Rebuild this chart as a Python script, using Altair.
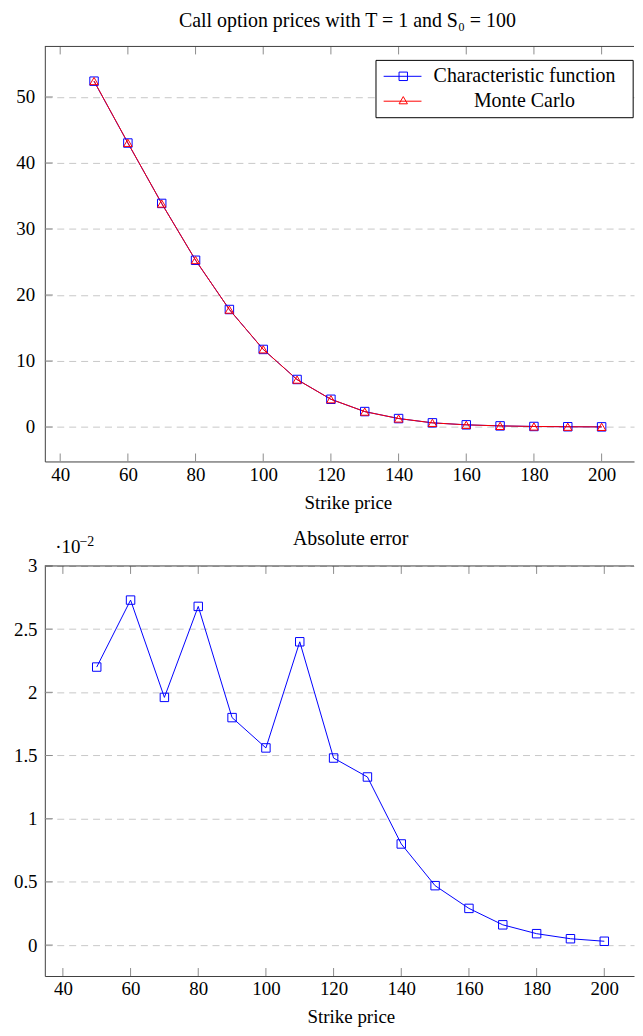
import altair as alt
import pandas as pd

# ---------------- data ----------------
strike = [50, 60, 70, 80, 90, 100, 110, 120, 130, 140, 150, 160, 170, 180, 190, 200]
cf_price = [52.39, 43.02, 33.87, 25.26, 17.80, 11.75, 7.20, 4.20, 2.34, 1.28, 0.63,
            0.33, 0.17, 0.08, 0.04, 0.02]
mc_price = [52.41, 43.05, 33.85, 25.29, 17.78, 11.77, 7.18, 4.21, 2.33, 1.29, 0.63,
            0.33, 0.17, 0.08, 0.04, 0.02]
abs_error = [0.0220, 0.0273, 0.0196, 0.0268, 0.0180, 0.0156, 0.0240, 0.0148, 0.0133,
             0.0080, 0.0047, 0.0029, 0.0016, 0.0009, 0.0005, 0.0003]

x_ticks = [40, 60, 80, 100, 120, 140, 160, 180, 200]
price_ticks = [0, 10, 20, 30, 40, 50]
error_ticks = [0, 0.5, 1, 1.5, 2, 2.5, 3]  # in units of 10^-2
legend_labels = ["Characteristic function", "Monte Carlo"]
title_top = "Call option prices with T = 1 and S\u2080 = 100"
title_bottom = "Absolute error"
x_title = "Strike price"
exp_base = "\u00b710"
exp_power = "\u22122"

# ---------------- style / layout ----------------
FONT = "Liberation Serif"
BLUE = "#0000ff"
RED = "#ff0000"
GRID = "#c8c8c8"
FRAME = "#404040"
TICK = "#8c8c8c"
PXU = 3.4
W = 592
H1, H2 = 417, 412
TL = 8
X0_TOP = 35.456
X0_BOT = 34.662

one = pd.DataFrame({"d": [0]})


def xaxis(tx):
    return alt.Axis(values=x_ticks, title=x_title, grid=False, ticks=False, domain=True,
                    domainColor=FRAME, domainWidth=1, labelPadding=4, titlePadding=9,
                    titleX=tx, labelFont=FONT, labelFontSize=19, titleFont=FONT,
                    titleFontSize=19, titleFontWeight="normal", labelColor="black",
                    titleColor="black", labelFlush=False)


def yaxis(vals, pad, fmt):
    return alt.Axis(values=vals, title=None, grid=True, gridColor=GRID, gridDash=[7, 5],
                    gridWidth=1, ticks=False, domain=True, domainColor=FRAME, domainWidth=1,
                    labelPadding=pad, labelFont=FONT, labelFontSize=19, labelColor="black",
                    labelFlush=False, format=fmt)


def label(text, x, y, size=20, align="center"):
    return alt.Chart(pd.DataFrame({"s": [text]})).mark_text(
        font=FONT, fontSize=size, align=align, baseline="middle", color="black").encode(
        text="s:N", x=alt.value(x), y=alt.value(y))


# ---------------- top chart ----------------
prices = pd.DataFrame({"K": strike, "cf": cf_price, "mc": mc_price})
xs1 = alt.Scale(domain=[X0_TOP, X0_TOP + W / PXU], nice=False, zero=False)
ys1 = alt.Scale(domain=[-5.22, 57.65], nice=False, zero=False)
ya1 = yaxis(price_ticks, 10.2, "d")
xa1 = xaxis(304.5)

base1 = alt.Chart(prices)
cf_line = base1.mark_line(color=BLUE, strokeWidth=1).encode(
    x=alt.X("K:Q", scale=xs1, axis=xa1), y=alt.Y("cf:Q", scale=ys1, axis=ya1))
mc_line = base1.mark_line(color=RED, strokeWidth=1).encode(
    x=alt.X("K:Q", scale=xs1, axis=xa1), y=alt.Y("mc:Q", scale=ys1, axis=ya1))
cf_pts = base1.mark_point(shape="square", color=BLUE, size=72, strokeWidth=1, filled=False,
                          opacity=1).encode(
    x=alt.X("K:Q", scale=xs1, axis=xa1), y=alt.Y("cf:Q", scale=ys1, axis=ya1))
mc_pts = base1.mark_point(shape="triangle-up", color=RED, size=70, strokeWidth=1,
                          filled=False, opacity=1).encode(
    x=alt.X("K:Q", scale=xs1, axis=xa1), y=alt.Y("mc:Q", scale=ys1, axis=ya1))

xt = pd.DataFrame({"t": x_ticks})
xt_b1 = alt.Chart(xt).mark_rule(color=TICK, strokeWidth=1).encode(
    x=alt.X("t:Q", scale=xs1, axis=xa1), y=alt.value(H1), y2=alt.value(H1 - TL))
xt_t1 = alt.Chart(xt).mark_rule(color=TICK, strokeWidth=1).encode(
    x=alt.X("t:Q", scale=xs1, axis=xa1), y=alt.value(0), y2=alt.value(TL))
yt1 = alt.Chart(pd.DataFrame({"t": price_ticks})).mark_rule(color=TICK, strokeWidth=1).encode(
    y=alt.Y("t:Q", scale=ys1, axis=ya1), x=alt.value(0), x2=alt.value(TL))
frame1 = alt.Chart(one).mark_rule(color=FRAME, strokeWidth=1).encode(
    x=alt.value(0), x2=alt.value(W), y=alt.value(0))

# legend
leg_box = alt.Chart(one).mark_rect(fill="white", stroke="black", strokeWidth=1).encode(
    x=alt.value(332.75), x2=alt.value(591.15), y=alt.value(14), y2=alt.value(71.6))
leg_l1 = alt.Chart(one).mark_rule(color=BLUE, strokeWidth=1).encode(
    x=alt.value(340.45), x2=alt.value(378.45), y=alt.value(30))
leg_p1 = alt.Chart(one).mark_point(shape="square", color=BLUE, size=72, strokeWidth=1,
                                   filled=False, opacity=1).encode(
    x=alt.value(360.15), y=alt.value(30))
leg_l2 = alt.Chart(one).mark_rule(color=RED, strokeWidth=1).encode(
    x=alt.value(340.45), x2=alt.value(378.45), y=alt.value(55))
leg_p2 = alt.Chart(one).mark_point(shape="triangle-up", color=RED, size=70, strokeWidth=1,
                                   filled=False, opacity=1).encode(
    x=alt.value(360.15), y=alt.value(54))
leg_t1 = label(legend_labels[0], 481.95, 29.5)
leg_t2 = label(legend_labels[1], 481.95, 54.5)
ttl1 = label(title_top, 304, -25.7)

top = alt.layer(
    xt_b1, xt_t1, yt1, frame1, cf_line, mc_line, cf_pts, mc_pts,
    leg_box, leg_l1, leg_l2, leg_p1, leg_p2, leg_t1, leg_t2, ttl1
).properties(width=W, height=H1)

# ---------------- bottom chart ----------------
errs = pd.DataFrame({"K": strike, "err": abs_error})
xs2 = alt.Scale(domain=[X0_BOT, X0_BOT + W / PXU], nice=False, zero=False)
ys2 = alt.Scale(domain=[-0.245, 3.0], nice=False, zero=False)
ya2 = yaxis(error_ticks, 7.8, "~g")
xa2 = xaxis(307.5)

base2 = alt.Chart(errs).transform_calculate(e100="datum.err * 100")
err_line = base2.mark_line(color=BLUE, strokeWidth=1).encode(
    x=alt.X("K:Q", scale=xs2, axis=xa2), y=alt.Y("e100:Q", scale=ys2, axis=ya2))
err_pts = base2.mark_point(shape="square", color=BLUE, size=72, strokeWidth=1, filled=False,
                           opacity=1).encode(
    x=alt.X("K:Q", scale=xs2, axis=xa2), y=alt.Y("e100:Q", scale=ys2, axis=ya2))

xt_b2 = alt.Chart(xt).mark_rule(color=TICK, strokeWidth=1).encode(
    x=alt.X("t:Q", scale=xs2, axis=xa2), y=alt.value(H2), y2=alt.value(H2 - TL))
xt_t2 = alt.Chart(xt).mark_rule(color=TICK, strokeWidth=1).encode(
    x=alt.X("t:Q", scale=xs2, axis=xa2), y=alt.value(0), y2=alt.value(TL))
yt2 = alt.Chart(pd.DataFrame({"t": error_ticks})).mark_rule(color=TICK, strokeWidth=1).encode(
    y=alt.Y("t:Q", scale=ys2, axis=ya2), x=alt.value(0), x2=alt.value(TL))
frame2 = alt.Chart(one).mark_rule(color=FRAME, strokeWidth=1).encode(
    x=alt.value(0), x2=alt.value(W), y=alt.value(0))

exp1 = label(exp_base, 10.45, -18.8, size=19, align="left")
exp2 = label(exp_power, 34.75, -24.3, size=14, align="left")
ttl2 = label(title_bottom, 307.3, -27.3)

bottom = alt.layer(
    xt_b2, xt_t2, yt2, frame2, err_line, err_pts, exp1, exp2, ttl2
).properties(width=W, height=H2)

chart = alt.vconcat(top, bottom, spacing=16).properties(
    padding={"left": 5, "top": 0.2, "right": 0, "bottom": 0}
).configure_view(stroke="transparent", strokeWidth=0)

chart.save("out.html", embed_options={"renderer": "svg", "actions": False})
